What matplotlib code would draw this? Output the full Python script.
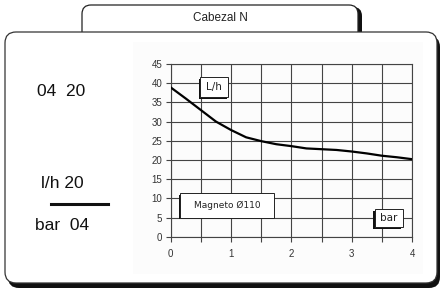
import numpy as np
import matplotlib
matplotlib.use("Agg")
import matplotlib.pyplot as plt
from matplotlib.patches import FancyBboxPatch, Rectangle

plt.rcParams['font.family'] = ['Liberation Sans Narrow', 'Liberation Sans', 'DejaVu Sans']

# datos de la curva (bar -> l/h)
presion = [0, 0.25, 0.5, 0.75, 1.0, 1.25, 1.5, 1.75, 2.0, 2.25, 2.5, 2.75, 3.0, 3.25, 3.5, 3.75, 4.0]
caudal = [38.9, 36.0, 33.0, 30.0, 27.8, 25.9, 24.9, 24.1, 23.6, 23.0, 22.8, 22.6, 22.2, 21.7, 21.1, 20.7, 20.2]

x_ticks = [0, 1, 2, 3, 4]
y_ticks = [0, 5, 10, 15, 20, 25, 30, 35, 40, 45]

titulo = "Cabezal N"
txt_izq = ["04  20", "l/h 20", "bar  04"]

W, H = 441, 289
fig = plt.figure(figsize=(W / 100, H / 100), dpi=100)

# capa de fondo en pixeles
bg = fig.add_axes([0, 0, 1, 1], zorder=0)
bg.set_xlim(0, W)
bg.set_ylim(H, 0)
bg.axis('off')

# pestaña de arriba
bg.add_patch(FancyBboxPatch((85, 7), 277, 40, boxstyle="round,pad=0,rounding_size=9",
                            fc='#111', ec='none', zorder=1))
bg.add_patch(FancyBboxPatch((82, 5), 276, 40, boxstyle="round,pad=0,rounding_size=9",
                            fc='white', ec='#222', lw=0.9, zorder=2))
bg.text(220, 18, titulo, ha='center', va='center', fontsize=8.5, color='#222', zorder=3)

# caja principal con sombra
bg.add_patch(FancyBboxPatch((8, 36), 432, 252, boxstyle="round,pad=0,rounding_size=11",
                            fc='#111', ec='none', zorder=4))
bg.add_patch(FancyBboxPatch((5, 32), 432, 251, boxstyle="round,pad=0,rounding_size=11",
                            fc='white', ec='#333', lw=0.9, zorder=5))
bg.add_patch(Rectangle((133, 42), 290, 232, fc='#fcfcfc', ec='none', zorder=5.5))

# textos de la izquierda
bg.text(61, 91, txt_izq[0], ha='center', va='center', fontsize=12.5, color='#111', zorder=6)
bg.text(62, 184, txt_izq[1], ha='center', va='center', fontsize=12.5, color='#111', zorder=6)
bg.plot([51, 108], [204, 204], color='#111', lw=2.2, zorder=6)
bg.text(62, 226, txt_izq[2], ha='center', va='center', fontsize=12.5, color='#111', zorder=6)

# grafico
ax = fig.add_axes([170.7 / W, 1 - 236.7 / H, (412 - 170.7) / W, (236.7 - 64) / H], zorder=10)
ax.patch.set_alpha(0)
ax.plot(presion, caudal, color='black', lw=1.6, zorder=5)
ax.set_xlim(0, 4)
ax.set_ylim(0, 45)
ax.set_xticks(x_ticks)
ax.set_xticks(np.arange(0, 4.01, 0.5), minor=True)
ax.set_yticks(y_ticks)
ax.grid(True, which='both', color='#444', lw=0.8)
for s in ax.spines.values():
    s.set_color('#444')
    s.set_linewidth(0.8)
ax.tick_params(which='both', length=3.5, width=0.8, color='#444', labelsize=7, labelcolor='#333', pad=2.5)
ax.tick_params(axis='x', pad=5)
for lab in ax.get_xticklabels() + ax.get_yticklabels():
    lab.set_family(['Liberation Sans', 'DejaVu Sans'])


def caja(x0, y0, x1, y1, texto, fs):
    # sombra a la izquierda y abajo
    ax.add_patch(Rectangle((x0 - 0.025, y0 - 0.45), x1 - x0, y1 - y0, fc='#111', ec='none', zorder=6))
    ax.add_patch(Rectangle((x0, y0), x1 - x0, y1 - y0, fc='white', ec='#222', lw=0.7, zorder=7))
    ax.text((x0 + x1) / 2, (y0 + y1) / 2, texto, ha='center', va='center', fontsize=fs,
            color='#222', zorder=8, family=['Liberation Sans Narrow', 'DejaVu Sans'])


caja(0.49, 36.4, 0.95, 41.6, "L/h", 7.5)
caja(0.16, 5.0, 1.72, 11.3, "Magneto Ø110", 6.5)
caja(3.38, 2.4, 3.85, 7.2, "bar", 7.5)

fig.savefig("out.png", dpi=100)
